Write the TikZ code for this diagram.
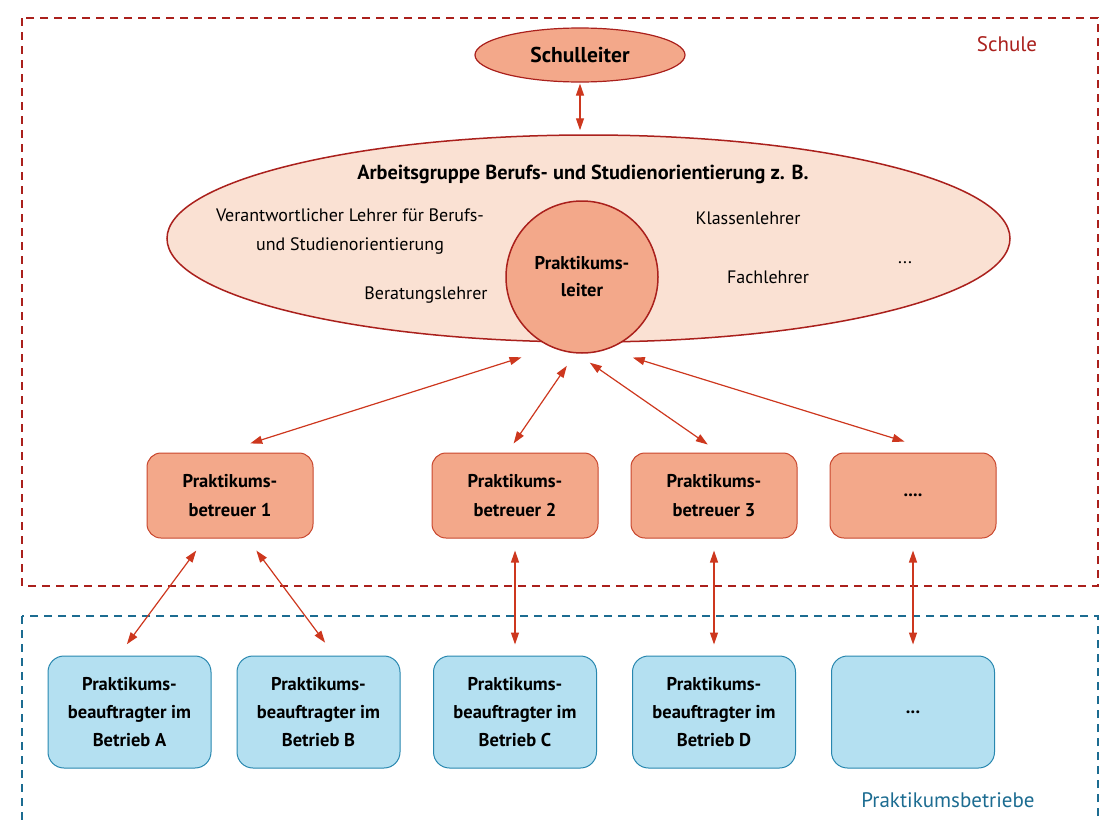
\documentclass[tikz,border=0pt]{standalone}
\usepackage{fontspec}
\setmainfont{PT Sans}
\usetikzlibrary{arrows.meta,shapes.geometric}

\definecolor{schulrot}{RGB}{170,32,28}
\definecolor{betriebblau}{RGB}{28,108,145}
\definecolor{lachs}{RGB}{243,168,138}
\definecolor{lachsrand}{RGB}{200,70,45}
\definecolor{pfirsich}{RGB}{250,225,211}
\definecolor{hellblau}{RGB}{180,224,241}
\definecolor{blaurand}{RGB}{40,135,175}
\definecolor{pfeilrot}{RGB}{205,55,30}

\begin{document}
\begin{tikzpicture}[x=1pt,y=-1pt,
    bereich/.style={line width=1.8pt,dash pattern=on 8pt off 6pt},
    betreuer/.style={draw=lachsrand,fill=lachs,line width=1pt,rounded corners=14pt,minimum width=166pt,minimum height=85pt,align=center,font=\fontsize{18.5}{29}\selectfont\bfseries},
    betrieb/.style={draw=blaurand,fill=hellblau,line width=1pt,rounded corners=16pt,minimum width=163pt,minimum height=112pt,align=center,font=\fontsize{18.5}{28}\selectfont\bfseries},
    gruppe/.style={font=\fontsize{18}{29}\selectfont,align=center},
    pfeil/.style={pfeilrot,line width=1.2pt,{Triangle[length=12pt,width=8pt]}-{Triangle[length=12pt,width=8pt]}}]
    \useasboundingbox (0,0) rectangle (1102,819);

    \draw[bereich,schulrot] (22,18) rectangle (1098,586);
    \draw[bereich,betriebblau] (22,616) rectangle (1098,822);
    \node[text=schulrot,font=\fontsize{21}{21}\selectfont] (schule) at (1007,44) {Schule};
    \node[text=betriebblau,font=\fontsize{21}{21}\selectfont] (betriebe) at (948,800) {Praktikumsbetriebe};

    \node[ellipse,draw=schulrot,fill=lachs,line width=1.2pt,inner sep=0pt,minimum width=210pt,minimum height=54pt,font=\fontsize{21.5}{23}\selectfont\bfseries] (leitung) at (580,55) {Schulleiter};
    \node[ellipse,draw=schulrot,fill=pfirsich,line width=1.5pt,inner sep=0pt,minimum width=843pt,minimum height=207pt] (gruppe) at (588.5,238.5) {};
    \node[gruppe,font=\fontsize{20.3}{29}\selectfont\bfseries] (titel) at (583,174) {Arbeitsgruppe Berufs- und Studienorientierung z. B.};
    \node[gruppe] (verantw) at (350,232) {Verantwortlicher Lehrer für Berufs-\\und Studienorientierung};
    \node[gruppe] (beratung) at (426,295) {Beratungslehrer};
    \node[gruppe] (klasse) at (748,218) {Klassenlehrer};
    \node[gruppe] (fach) at (768,277) {Fachlehrer};
    \node[gruppe] (mehr) at (905,263) {...};
    \node[circle,draw=schulrot,fill=lachs,line width=1.5pt,inner sep=0pt,minimum size=152pt,align=center,font=\fontsize{18.5}{27}\selectfont\bfseries] (leiter) at (582,277) {Praktikums-\\leiter};

    \foreach \n/\x in {1/230,2/515,3/714}
        \node[betreuer] (b\n) at (\x,495.5) {Praktikums-\\betreuer \n};
    \node[betreuer] (b4) at (913,495.5) {....};

    \foreach \n/\x in {A/129.5,B/318.5,C/515,D/714}
        \node[betrieb] (p\n) at (\x,712) {Praktikums-\\beauftragter im\\Betrieb \n};
    \node[betrieb] (pE) at (913,712) {...};

    \draw[pfeil,shorten <=1pt,shorten >=4pt] (leitung.south) -- (leitung.south |- gruppe.north);
    \draw[pfeil,shorten <=32pt,shorten >=30pt] (leiter.-113) -- (b1.101);
    \draw[pfeil,shorten <=15pt,shorten >=11pt] (leiter.-95) -- (b2.100);
    \draw[pfeil,shorten <=16pt,shorten >=14pt] (leiter.-94) -- (b3.83);
    \draw[pfeil,shorten <=27pt,shorten >=37pt] (leiter.-71) -- (b4.58);
    \draw[pfeil,shorten <=15pt,shorten >=14pt] (b1.-120) -- (pA.101);
    \draw[pfeil,shorten <=15pt,shorten >=16pt] (b1.-68) -- (pB.74);
    \foreach \n/\m in {2/C,3/D,4/E}
        \draw[pfeil,shorten <=12pt,shorten >=11pt] (b\n.south) -- (p\m.north);
\end{tikzpicture}
\end{document}
